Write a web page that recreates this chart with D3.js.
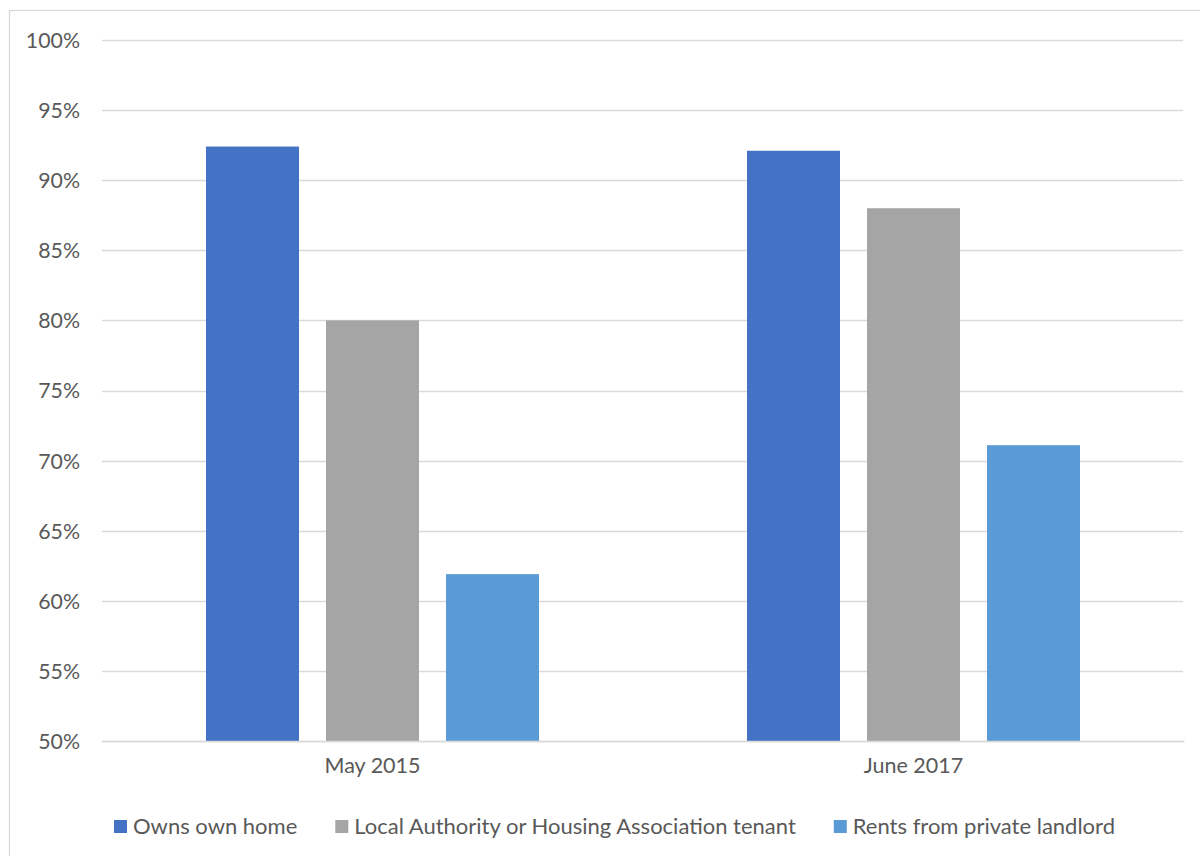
<!DOCTYPE html>
<html><head><meta charset="utf-8">
<script src="https://cdn.jsdelivr.net/npm/d3@7"></script>
<style>body{margin:0;background:#fff}svg{display:block}text{font-family:Lato,"Open Sans",sans-serif;fill:#595959}</style>
</head><body><svg id="c" width="1200" height="856"></svg>
<script>
const categories = ["May 2015", "June 2017"];
const seriesNames = ["Owns own home", "Local Authority or Housing Association tenant", "Rents from private landlord"];
const seriesColors = ["#4472C4", "#A5A5A5", "#5B9BD5"];
const owns = [92.4, 92.1];
const localAuth = [80.0, 88.0];
const rents = [61.9, 71.1];
const yTicks = [50, 55, 60, 65, 70, 75, 80, 85, 90, 95, 100];
const seriesValues = [owns, localAuth, rents];

const svg = d3.select("#c");
svg.append("rect").attr("x",9.5).attr("y",10.5).attr("width",1220).attr("height",900)
  .attr("fill","none").attr("stroke","#d9d9d9").attr("stroke-width",1.3);

const L=102, R=1184, T=40, B=741;
const x0 = d3.scaleBand().domain(categories).range([L,R]).paddingInner(0).paddingOuter(0);
const y = d3.scaleLinear().domain([50,100]).range([B,T]);

const g = svg.append("g");
g.selectAll("line.grid").data(yTicks).join("line")
  .attr("x1",L).attr("x2",R-1).attr("y1",d=>Math.round(y(d))+0.5).attr("y2",d=>Math.round(y(d))+0.5)
  .attr("stroke","#d9d9d9").attr("stroke-width",1.3);

const yAxis = d3.axisLeft(y).tickValues(yTicks).tickFormat(d=>d+"%").tickSize(0).tickPadding(0);
const ya = svg.append("g").attr("transform",`translate(80,0)`).call(yAxis);
ya.select(".domain").remove();
ya.selectAll("text").attr("font-size",21.3).style("font-family","Lato").attr("fill","#595959").attr("dy","0.35em");

const bw = 93, gap = 27;
categories.forEach((c,ci)=>{
  const cx = x0(c)+x0.bandwidth()/2;
  seriesValues.forEach((vals,si)=>{
    const xx = cx + (si-1)*(bw+gap) - bw/2;
    g.append("rect").attr("x",xx).attr("width",bw)
      .attr("y",y(vals[ci])).attr("height",y(50)-y(vals[ci]))
      .attr("fill",seriesColors[si]);
  });
});

const xAxis = d3.axisBottom(x0).tickSize(0).tickPadding(0);
const xa = svg.append("g").attr("transform",`translate(0,${B})`).call(xAxis);
xa.select(".domain").attr("stroke","#d9d9d9").attr("stroke-width",1.3);
xa.selectAll("text").attr("font-size",21.5).style("font-family","Lato").attr("fill","#595959").attr("y",32).attr("dy","0");

// legend
const lg = svg.append("g");
let xpos = 0;
seriesNames.forEach((n,i)=>{
  const it = lg.append("g");
  it.append("rect").attr("width",13).attr("height",13).attr("y",-7).attr("fill",seriesColors[i]);
  const t = it.append("text").attr("x",19).attr("y",7).attr("font-size",22).text(n);
  const w = 19 + t.node().getComputedTextLength();
  it.attr("transform",`translate(${xpos},827)`);
  xpos += w + 38;
});
const total = xpos - 38;
lg.attr("transform",`translate(${614.5-total/2},0)`);
</script></body></html>
